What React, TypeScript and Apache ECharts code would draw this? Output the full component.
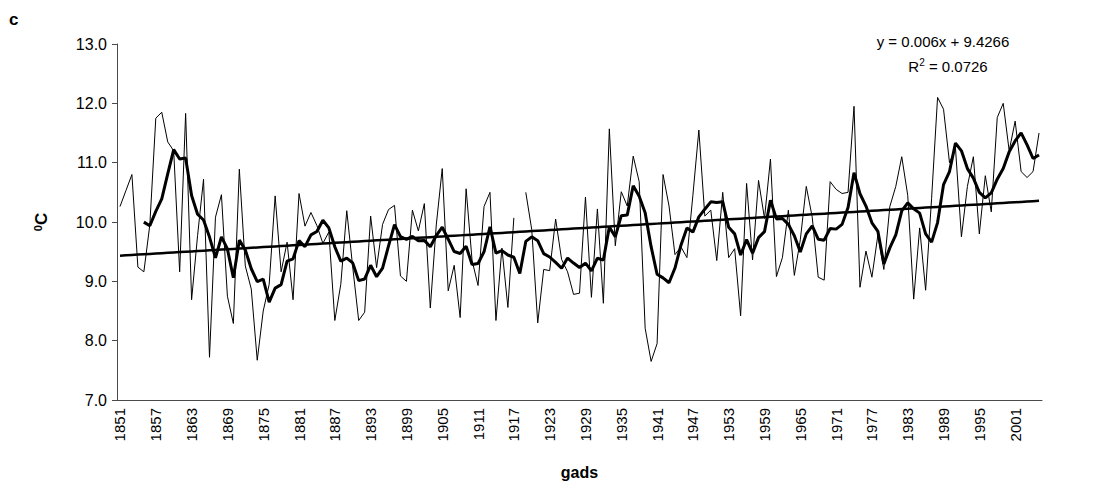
import { useEffect, useRef } from "react";
import * as echarts from "echarts";

// Annual mean temperature, °C, 1851–2005 (1918 missing)
const FIRST_YEAR = 1851;
const temperature: (number | null)[] = [
  // 1851–1860
  10.26, 10.53, 10.8, 9.24, 9.16, 9.95, 11.75, 11.85, 11.35, 11.2,
  // 1861–1870
  9.16, 11.83, 8.69, 9.77, 10.72, 7.72, 10.08, 10.46, 8.75, 8.29,
  // 1871–1880
  10.89, 9.26, 8.87, 7.67, 8.5, 8.95, 10.44, 9.16, 9.66, 8.69,
  // 1881–1890
  10.48, 9.93, 10.16, 9.94, 9.64, 9.83, 8.34, 8.95, 10.19, 9.24,
  // 1891–1900
  8.34, 8.48, 10.1, 9.23, 9.96, 10.21, 10.28, 9.09, 9.0, 10.2,
  // 1901–1910
  9.85, 10.31, 8.55, 9.95, 10.9, 8.84, 9.27, 8.39, 10.56, 9.35,
  // 1911–1920
  8.93, 10.26, 10.5, 8.34, 9.56, 8.56, 10.07, null, 10.5, 9.87,
  // 1921–1930
  8.3, 9.2, 9.18, 10.05, 9.37, 9.16, 8.78, 8.8, 10.42, 8.73,
  // 1931–1940
  10.22, 8.63, 11.57, 9.6, 10.51, 10.27, 11.11, 10.68, 8.21, 7.65,
  // 1941–1950
  7.95, 10.8, 10.27, 9.45, 9.58, 9.4, 10.45, 11.55, 10.1, 10.2,
  // 1951–1960
  9.35, 10.5, 9.4, 9.55, 8.42, 10.65, 9.36, 10.7, 10.06, 11.06,
  // 1961–1970
  9.08, 9.4, 10.2, 9.1, 9.7, 10.6, 10.08, 9.07, 9.02, 10.68,
  // 1971–1980
  10.55, 10.48, 10.5, 11.95, 8.9, 9.51, 9.07, 9.78, 9.2, 10.26,
  // 1981–1990
  10.6, 11.1, 10.45, 8.7, 9.9, 8.85, 10.4, 12.1, 11.9, 11.0,
  // 1991–2000
  11.25, 9.75, 10.6, 11.1, 9.8, 10.78, 10.17, 11.76, 12.0, 11.2,
  // 2001–2005
  11.7, 10.85, 10.75, 10.85, 11.5,
];

const years: string[] = temperature.map((_, i) => String(FIRST_YEAR + i));

// Linear trend, x counted 1..n
const TREND_SLOPE = 0.006;
const TREND_INTERCEPT = 9.4266;
const R_SQUARED = "0.0726";

// Moving-average period (years)
const MA_PERIOD = 5;

const Y_MIN = 7;
const Y_MAX = 13;
const Y_STEP = 1;

function movingAverage(values: (number | null)[], period: number): (number | null)[] {
  return values.map((_, i) => {
    if (i < period - 1) return null;
    const win = values.slice(i - period + 1, i + 1).filter((v): v is number => v !== null);
    if (!win.length) return null;
    return win.reduce((a, b) => a + b, 0) / win.length;
  });
}

const smoothed = movingAverage(temperature, MA_PERIOD);
const trend = temperature.map((_, i) => TREND_SLOPE * (i + 1) + TREND_INTERCEPT);

const FONT = "'Liberation Sans', Arial, Helvetica, sans-serif";
const AXIS_COLOR = "#4a4a4a";

export default function App() {
  const ref = useRef<HTMLDivElement>(null);

  useEffect(() => {
    if (!ref.current) return;
    const chart = echarts.init(ref.current, null, { renderer: "svg" });
    chart.setOption({
      animation: false,
      backgroundColor: "#ffffff",
      textStyle: { fontFamily: FONT, color: "#000" },
      grid: { left: 117, right: 56, top: 44, bottom: 88 },
      xAxis: {
        type: "category",
        data: years,
        boundaryGap: true,
        axisLine: { lineStyle: { color: AXIS_COLOR, width: 1 } },
        axisTick: { interval: 0, length: 5, lineStyle: { color: AXIS_COLOR, width: 1 } },
        axisLabel: {
          interval: 5,
          rotate: 90,
          fontSize: 15,
          color: "#000",
          margin: 8,
          fontFamily: FONT,
        },
        splitLine: { show: false },
        name: "gads",
        nameLocation: "middle",
        nameGap: 64,
        nameTextStyle: { fontSize: 16, fontWeight: "bold", color: "#000", fontFamily: FONT },
      },
      yAxis: {
        type: "value",
        min: Y_MIN,
        max: Y_MAX,
        interval: Y_STEP,
        axisLine: { show: true, lineStyle: { color: AXIS_COLOR, width: 1 } },
        axisTick: { show: true, length: 5, lineStyle: { color: AXIS_COLOR, width: 1 } },
        axisLabel: {
          formatter: (v: number) => v.toFixed(1),
          fontSize: 16,
          color: "#000",
          margin: 10,
          fontFamily: FONT,
        },
        splitLine: { show: false },
        name: "{sup|0}{base|C}",
        nameLocation: "middle",
        nameRotate: 90,
        nameGap: 66,
        nameTextStyle: {
          fontFamily: FONT,
          rich: {
            sup: { fontSize: 11, fontWeight: "bold", color: "#000", fontFamily: FONT, padding: [0, 0, 8, 0] },
            base: { fontSize: 17, fontWeight: "bold", color: "#000", fontFamily: FONT },
          },
        },
      },
      series: [
        {
          name: "Temperatūra",
          type: "line",
          data: temperature,
          symbol: "none",
          connectNulls: false,
          lineStyle: { color: "#000", width: 1 },
          z: 2,
        },
        {
          name: "5 g. slīdošais vidējais",
          type: "line",
          data: smoothed,
          symbol: "none",
          lineStyle: { color: "#000", width: 3 },
          z: 3,
        },
        {
          name: "Lineārais trends",
          type: "line",
          data: trend,
          symbol: "none",
          lineStyle: { color: "#000", width: 2.5 },
          z: 4,
        },
      ],
      graphic: [
        {
          type: "text",
          left: 9,
          top: 11,
          style: { text: "c", font: `bold 17px ${FONT}`, fill: "#000" },
        },
        {
          type: "text",
          x: 943,
          y: 41,
          style: {
            text: `y = ${TREND_SLOPE}x + ${TREND_INTERCEPT}`,
            font: `15px ${FONT}`,
            fill: "#000",
            align: "center",
            verticalAlign: "middle",
          },
        },
        {
          type: "text",
          x: 948,
          y: 66,
          style: {
            text: `{r|R}{s|2}{r| = ${R_SQUARED}}`,
            align: "center",
            verticalAlign: "middle",
            rich: {
              r: { font: `15px ${FONT}`, fill: "#000" },
              s: { font: `10px ${FONT}`, fill: "#000", padding: [0, 0, 7, 0] },
            },
          },
        },
      ],
    });
    return () => chart.dispose();
  }, []);

  return (
    <div
      ref={ref}
      style={{ position: "fixed", left: 0, top: 0, width: 1098, height: 488, background: "#fff" }}
    />
  );
}
